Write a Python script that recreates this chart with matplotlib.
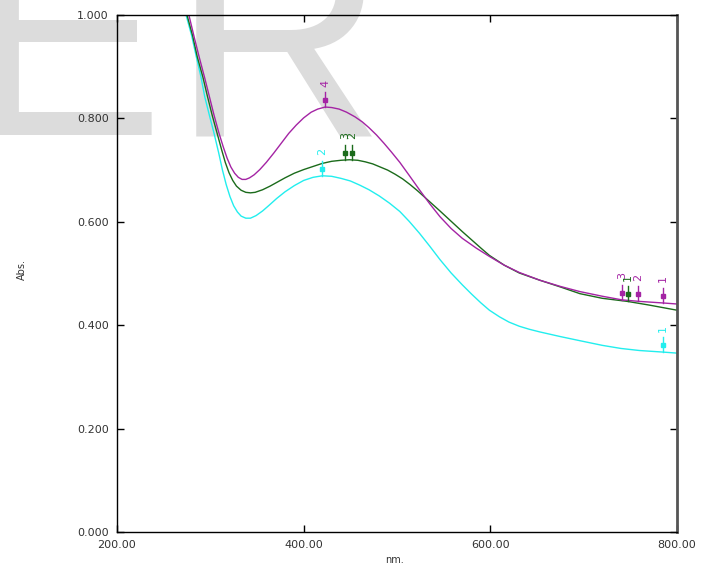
import numpy as np
import matplotlib
matplotlib.use('Agg')
from matplotlib import pyplot as plt

# spectra (nm, Abs.)
wl_mag = [265, 277, 283, 288, 294, 299, 304, 309, 314, 318, 322, 326, 330, 334, 338, 342,
          347, 353, 360, 368, 376, 384, 392, 400, 408, 415, 423, 430, 438, 446, 455, 463,
          470, 478, 486, 494, 503, 513, 524, 535, 546, 558, 570, 585, 599, 615, 631, 653,
          675, 696, 720, 741, 760, 785, 800]
abs_mag = [1.12, 1.000, 0.955, 0.919, 0.878, 0.842, 0.806, 0.773, 0.744, 0.723, 0.706, 0.694,
           0.686, 0.682, 0.682, 0.685, 0.691, 0.701, 0.715, 0.733, 0.752, 0.771, 0.787, 0.801,
           0.812, 0.818, 0.822, 0.821, 0.818, 0.812, 0.803, 0.793, 0.782, 0.768, 0.752, 0.735,
           0.715, 0.690, 0.662, 0.635, 0.610, 0.587, 0.568, 0.549, 0.533, 0.516, 0.502, 0.487,
           0.475, 0.465, 0.456, 0.449, 0.446, 0.443, 0.441]

wl_grn = [265, 275, 281, 286, 292, 297, 302, 307, 312, 316, 320, 324, 328, 333, 338, 343,
          348, 356, 364, 372, 380, 390, 400, 410, 420, 430, 440, 449, 458, 466, 474, 482,
          490, 498, 506, 514, 522, 530, 538, 546, 558, 570, 580, 590, 599, 615, 631, 653,
          675, 696, 720, 747, 770, 785, 800]
abs_grn = [1.12, 1.000, 0.960, 0.919, 0.880, 0.842, 0.806, 0.773, 0.740, 0.715, 0.695, 0.680,
           0.669, 0.661, 0.657, 0.656, 0.657, 0.662, 0.669, 0.677, 0.685, 0.694, 0.701, 0.707,
           0.713, 0.717, 0.719, 0.720, 0.719, 0.716, 0.712, 0.706, 0.700, 0.692, 0.683, 0.672,
           0.660, 0.647, 0.634, 0.621, 0.601, 0.581, 0.565, 0.549, 0.535, 0.516, 0.501, 0.487,
           0.474, 0.461, 0.452, 0.446, 0.439, 0.434, 0.429]

wl_cyn = [265, 274, 280, 285, 290, 294, 299, 304, 309, 313, 317, 321, 325, 329, 333, 338,
          343, 349, 356, 363, 371, 380, 390, 400, 410, 420, 430, 440, 450, 460, 470, 481,
          492, 503, 513, 524, 535, 546, 558, 570, 580, 590, 599, 610, 620, 631, 642, 653,
          675, 696, 720, 740, 760, 785, 800]
abs_cyn = [1.12, 1.000, 0.960, 0.919, 0.880, 0.842, 0.806, 0.771, 0.733, 0.700, 0.672, 0.649,
           0.631, 0.619, 0.611, 0.607, 0.607, 0.612, 0.621, 0.632, 0.645, 0.658, 0.670, 0.680,
           0.686, 0.689, 0.688, 0.684, 0.679, 0.671, 0.662, 0.650, 0.636, 0.620, 0.601, 0.578,
           0.553, 0.527, 0.501, 0.478, 0.460, 0.443, 0.429, 0.416, 0.406, 0.398, 0.392, 0.387,
           0.378, 0.370, 0.361, 0.355, 0.351, 0.348, 0.346]

# peak picks: wavelength, absorbance, label
pk_mag_x = [423, 741, 758, 785]
pk_mag_y = [0.822, 0.449, 0.446, 0.443]
pk_mag_lab = ['4', '3', '2', '1']
pk_grn_x = [444, 452, 747]
pk_grn_y = [0.720, 0.720, 0.446]
pk_grn_lab = ['3', '2', '1']
pk_cyn_x = [420, 785]
pk_cyn_y = [0.689, 0.348]
pk_cyn_lab = ['2', '1']

xticks = [200, 400, 600, 800]
yticks = [0.0, 0.2, 0.4, 0.6, 0.8, 1.0]

c_mag = '#a424a4'
c_grn = '#1b6b1b'
c_cyn = '#22eeee'

W, H = 707, 567
fig = plt.figure(figsize=(W / 100, H / 100), dpi=100)
fig.patch.set_facecolor('white')

# grey watermark letters behind the plot
fig.text(-33 / W, 1 - 135 / H, 'E', fontsize=213, family='Liberation Sans',
         color='#dcdcdc', zorder=-1, ha='left', va='baseline')
fig.text(172 / W, 1 - 135 / H, 'R', fontsize=213, family='Liberation Sans',
         color='#dcdcdc', zorder=-1, ha='left', va='baseline')

ax = fig.add_axes([117 / W, 1 - 532 / H, 560 / W, 517 / H])
ax.patch.set_alpha(0)

ax.plot(wl_cyn, abs_cyn, color=c_cyn, lw=1.0)
ax.plot(wl_grn, abs_grn, color=c_grn, lw=1.0)
ax.plot(wl_mag, abs_mag, color=c_mag, lw=1.0)

u = 1 / 517  # one pixel in Abs. units


def pick(x, y, lab, color):
    ax.plot([x, x], [y, y + 15 * u], color=color, lw=1.0)
    ax.plot(x, y + 7 * u, 's', color=color, ms=2.5)
    ax.text(x, y + 24 * u, lab, rotation=90, ha='center', va='center',
            color=color, fontsize=8, family='DejaVu Sans')


for x, y, l in zip(pk_mag_x, pk_mag_y, pk_mag_lab):
    pick(x, y, l, c_mag)
for x, y, l in zip(pk_grn_x, pk_grn_y, pk_grn_lab):
    pick(x, y, l, c_grn)
for x, y, l in zip(pk_cyn_x, pk_cyn_y, pk_cyn_lab):
    pick(x, y, l, c_cyn)

ax.set_xlim(200, 800)
ax.set_ylim(0, 1.0)
ax.set_xticks(xticks)
ax.set_yticks(yticks)
ax.set_xticklabels(['%.2f' % v for v in xticks])
ax.set_yticklabels(['%.3f' % v for v in yticks])
ax.tick_params(direction='in', length=5, width=1, top=True, right=True,
               labelsize=8, labelcolor='#333333', pad=6)
for lab in ax.get_xticklabels() + ax.get_yticklabels():
    lab.set_family('DejaVu Sans')

for s in ['left', 'bottom', 'top']:
    ax.spines[s].set_color('black')
    ax.spines[s].set_linewidth(1.0)
ax.spines['right'].set_color('#555555')
ax.spines['right'].set_linewidth(2.0)

fig.text(395 / W, 1 - 560 / H, 'nm.', ha='center', va='center', fontsize=7,
         color='#333333', family='DejaVu Sans')
fig.text(22 / W, 1 - 270 / H, 'Abs.', ha='center', va='center', fontsize=7,
         color='#333333', rotation=90, family='DejaVu Sans')

fig.savefig('out.png', dpi=100)
